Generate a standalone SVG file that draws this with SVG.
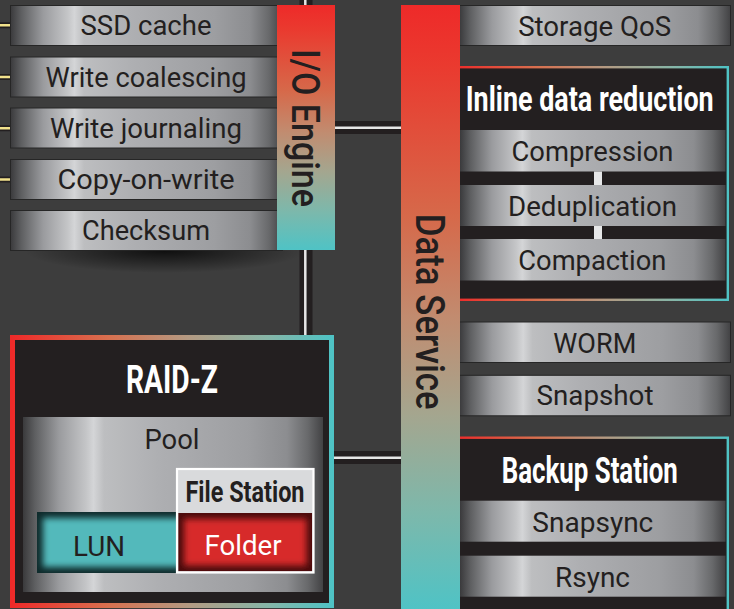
<svg xmlns="http://www.w3.org/2000/svg" width="734" height="609" viewBox="0 0 734 609">
<defs>
<linearGradient id="metal" x1="0" y1="0" x2="1" y2="0">
<stop offset="0" stop-color="#3a3a3c"/>
<stop offset="0.04" stop-color="#5e5f61"/>
<stop offset="0.12" stop-color="#9a9b9e"/>
<stop offset="0.21" stop-color="#c4c5c7"/>
<stop offset="0.235" stop-color="#d4d5d7"/>
<stop offset="0.27" stop-color="#bdbec0"/>
<stop offset="0.45" stop-color="#aeafb2"/>
<stop offset="0.75" stop-color="#9d9ea1"/>
<stop offset="0.88" stop-color="#8c8d90"/>
<stop offset="0.95" stop-color="#68696b"/>
<stop offset="1" stop-color="#424244"/>
</linearGradient>
<linearGradient id="vbar" x1="0" y1="0" x2="0" y2="1">
<stop offset="0" stop-color="#ee2a29"/>
<stop offset="0.1" stop-color="#ea3a2f"/>
<stop offset="0.35" stop-color="#d6694a"/>
<stop offset="0.52" stop-color="#c18c70"/>
<stop offset="0.68" stop-color="#a4a68f"/>
<stop offset="0.84" stop-color="#7db8ab"/>
<stop offset="1" stop-color="#4fc3c5"/>
</linearGradient>
<linearGradient id="hbar" x1="0" y1="0" x2="1" y2="0">
<stop offset="0" stop-color="#ee2a29"/>
<stop offset="0.3" stop-color="#d8704f"/>
<stop offset="0.55" stop-color="#b49a82"/>
<stop offset="0.8" stop-color="#86b6a8"/>
<stop offset="1" stop-color="#4fc3c5"/>
</linearGradient>
<radialGradient id="shadow" cx="0.5" cy="0.5" r="0.5">
<stop offset="0" stop-color="#000" stop-opacity="0.75"/>
<stop offset="0.6" stop-color="#000" stop-opacity="0.3"/>
<stop offset="1" stop-color="#000" stop-opacity="0"/>
</radialGradient>
<filter id="soft" x="-30%" y="-50%" width="160%" height="200%">
<feGaussianBlur stdDeviation="3.2"/>
</filter>
<clipPath id="clipLun"><rect x="37" y="512" width="140" height="61"/></clipPath>
<clipPath id="clipFolder"><rect x="178.2" y="513" width="134" height="58.3"/></clipPath>
</defs>
<style>
text{font-family:Roboto,"Liberation Sans",sans-serif;text-anchor:middle}
.lbl{font-size:28px;fill:#231f20}
.ttl{font-weight:700;fill:#fff}
.box{fill:url(#metal);stroke:#262626;stroke-width:1}
.bar{fill:url(#metal)}
.vt{font-weight:500;fill:#231f20}
.panel{fill:#231f20;stroke:url(#hbar)}
.wd{stroke:#231f20;stroke-width:13;fill:none}
.ww{stroke:#e6e6e6;stroke-width:2.5;fill:none}
.yd{stroke:#231f20;stroke-width:6}
.yw{stroke:#f2e28c;stroke-width:2.5}
</style>
<rect width="734" height="609" fill="#3d3d3d"/>
<ellipse cx="165" cy="251" rx="140" ry="22" fill="url(#shadow)"/>

<g id="ssd-cache"><rect class="box" x="10.5" y="5.5" width="272" height="40"/><text class="lbl" x="146" y="35.3" textLength="131" lengthAdjust="spacingAndGlyphs">SSD cache</text></g>
<g id="write-coalescing"><rect class="box" x="10.5" y="57" width="272" height="40"/><text class="lbl" x="146" y="87.3" textLength="201" lengthAdjust="spacingAndGlyphs">Write coalescing</text></g>
<g id="write-journaling"><rect class="box" x="10.5" y="108" width="272" height="40"/><text class="lbl" x="146" y="138.3" textLength="192" lengthAdjust="spacingAndGlyphs">Write journaling</text></g>
<g id="copy-on-write"><rect class="box" x="10.5" y="159.5" width="272" height="40"/><text class="lbl" x="146" y="189.3" textLength="177" lengthAdjust="spacingAndGlyphs">Copy-on-write</text></g>
<g id="checksum"><rect class="box" x="10.5" y="210.5" width="272" height="40"/><text class="lbl" x="146" y="240" textLength="128" lengthAdjust="spacingAndGlyphs">Checksum</text></g>

<g id="io-engine"><rect x="277" y="5" width="58" height="245" fill="url(#vbar)"/><text class="vt" font-size="39" transform="translate(291.5,128) rotate(90)" textLength="158" lengthAdjust="spacingAndGlyphs">I/O Engine</text></g>

<g id="raid-z">
<rect class="panel" x="12.5" y="337.5" width="319" height="268" stroke-width="5"/>
<text class="ttl" x="172" y="393" font-size="38" textLength="92" lengthAdjust="spacingAndGlyphs">RAID-Z</text>
<g id="pool"><rect class="bar" x="23" y="417" width="300" height="175"/><text class="lbl" x="172" y="449" font-size="27" textLength="55" lengthAdjust="spacingAndGlyphs">Pool</text></g>
<g id="lun">
<g clip-path="url(#clipLun)"><rect x="37" y="512" width="140" height="61" fill="#0f2b2c"/><rect x="43" y="518" width="140" height="49" fill="#52b9bb" filter="url(#soft)"/></g>
<text class="lbl" x="99" y="556" textLength="52" lengthAdjust="spacingAndGlyphs">LUN</text></g>
<g id="file-station">
<rect x="177" y="469" width="136.5" height="103.5" fill="#d9dadc" stroke="#fff" stroke-width="2.2"/>
<text x="245" y="502" font-size="30" font-weight="700" fill="#231f20" textLength="119" lengthAdjust="spacingAndGlyphs">File Station</text>
<g id="folder">
<g clip-path="url(#clipFolder)"><rect x="178.2" y="513" width="134" height="58.3" fill="#4a0b0c"/><rect x="184" y="519" width="122.5" height="46.5" fill="#d72a2b" filter="url(#soft)"/></g>
<text x="243" y="555" font-size="28" fill="#fff" textLength="77" lengthAdjust="spacingAndGlyphs">Folder</text></g>
</g>
</g>

<g id="storage-qos"><rect class="box" x="459.5" y="5.5" width="271" height="40"/><text class="lbl" x="594.7" y="35.7" textLength="153" lengthAdjust="spacingAndGlyphs">Storage QoS</text></g>

<g id="inline-data-reduction">
<rect class="panel" x="455" y="67.2" width="272.8" height="232.6" stroke-width="2.4"/>
<text class="ttl" font-size="22" transform="translate(589.7,111) scale(1,1.62)" textLength="248" lengthAdjust="spacingAndGlyphs">Inline data reduction</text>
<g id="compression"><rect class="bar" x="460" y="130" width="265.5" height="41.5"/><text class="lbl" x="592.5" y="161" textLength="162" lengthAdjust="spacingAndGlyphs">Compression</text></g>
<g id="deduplication"><rect class="bar" x="460" y="185" width="265.5" height="41"/><text class="lbl" x="592.5" y="216" textLength="169" lengthAdjust="spacingAndGlyphs">Deduplication</text></g>
<g id="compaction"><rect class="bar" x="460" y="239" width="265.5" height="41.5"/><text class="lbl" x="592.3" y="270" textLength="148" lengthAdjust="spacingAndGlyphs">Compaction</text></g>
</g>

<g id="worm"><rect class="box" x="459.5" y="322" width="271" height="40.5"/><text class="lbl" x="594.8" y="352.7" textLength="83" lengthAdjust="spacingAndGlyphs">WORM</text></g>
<g id="snapshot"><rect class="box" x="459.5" y="375.3" width="271" height="40.5"/><text class="lbl" x="595" y="405" textLength="117" lengthAdjust="spacingAndGlyphs">Snapshot</text></g>

<g id="backup-station">
<rect class="panel" x="455" y="437.7" width="272.8" height="200" stroke-width="2.4"/>
<text class="ttl" font-size="22" transform="translate(589.8,483.3) scale(1,1.72)" textLength="176" lengthAdjust="spacingAndGlyphs">Backup Station</text>
<g id="snapsync"><rect class="bar" x="460" y="500.7" width="265.5" height="41"/><text class="lbl" x="592.8" y="532.3" textLength="121" lengthAdjust="spacingAndGlyphs">Snapsync</text></g>
<g id="rsync"><rect class="bar" x="460" y="555.7" width="265.5" height="41"/><text class="lbl" x="592.5" y="586.7" textLength="75" lengthAdjust="spacingAndGlyphs">Rsync</text></g>
</g>

<g id="data-service"><rect x="401" y="5" width="59" height="604" fill="url(#vbar)"/><text class="vt" font-size="41" transform="translate(415.7,311.7) rotate(90)" textLength="196" lengthAdjust="spacingAndGlyphs">Data Service</text></g>

<g id="connectors">
<path class="wd" d="M306 0V5M306 250V335M335 127.5H401M334 457.5H401"/>
<path class="ww" d="M305.3 0V5M305.3 250V335M335 127.8H401M334 457.8H401"/>
<path class="yd" d="M0 25.3H10M0 77H10M0 128.3H10M0 179.5H10"/>
<path class="yw" d="M0 25.3H10M0 77H10M0 128.3H10M0 179.5H10"/>
<rect x="594" y="171.5" width="8" height="13.5" fill="#e6e7e8"/>
<rect x="594" y="226" width="8" height="13" fill="#e6e7e8"/>
</g>
</svg>
